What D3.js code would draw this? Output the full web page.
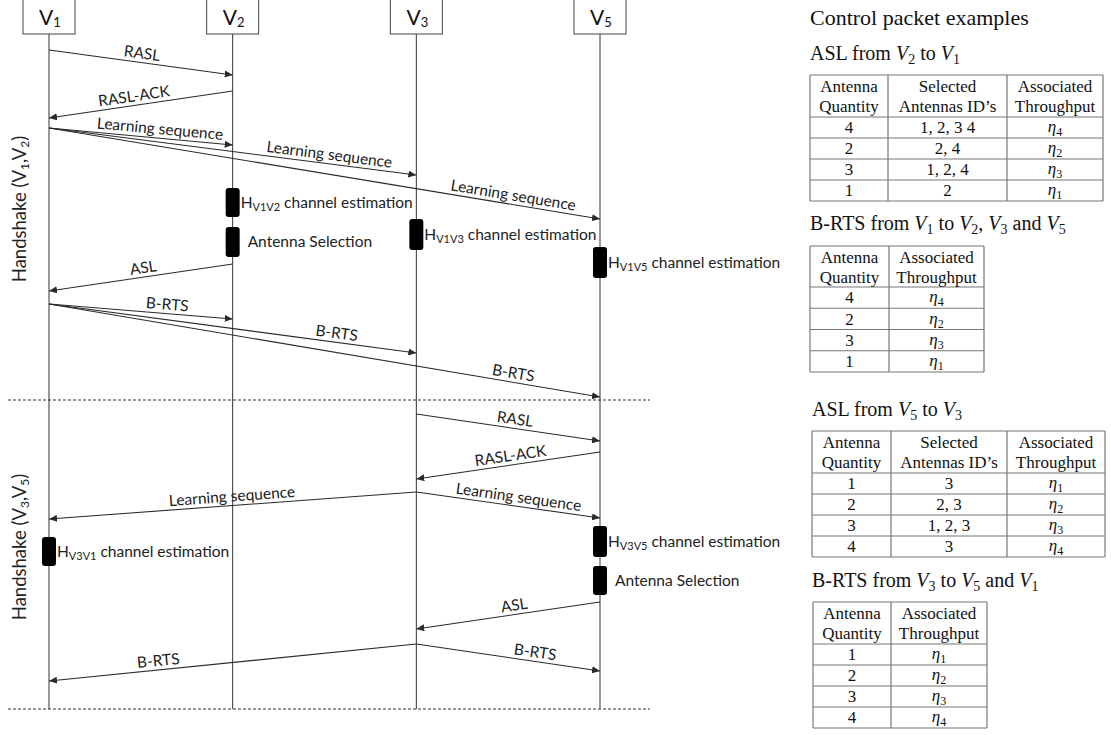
<!DOCTYPE html>
<html><head><meta charset="utf-8">
<script src="https://cdn.jsdelivr.net/npm/d3@7"></script>
<style>body{margin:0;background:#fff}</style>
</head><body>
<svg id="c" width="1111" height="736"></svg>
<script>
// ---------- data ----------
const nodes = ["V1", "V2", "V3", "V5"];
const nodeSubs = ["1", "2", "3", "5"];

// messages (sequence diagram): sender, receiver, send time, receive time, label, label position
const msgFrom  = ["V1","V2","V1","V1","V1","V2","V1","V1","V1","V3","V5","V3","V3","V5","V3","V3"];
const msgTo    = ["V2","V1","V2","V3","V5","V1","V2","V3","V5","V5","V3","V1","V5","V3","V5","V1"];
const msgStart = [50, 91, 128, 128, 128, 264, 304, 304, 304, 414, 452, 492, 492, 602, 644, 644];
const msgEnd   = [75, 118, 145, 175, 219, 291, 319, 353, 397, 441, 479, 519, 518, 629, 671, 681];
const msgLabel = ["RASL","RASL-ACK","Learning sequence","Learning sequence","Learning sequence","ASL",
                  "B-RTS","B-RTS","B-RTS","RASL","RASL-ACK","Learning sequence","Learning sequence",
                  "ASL","B-RTS","B-RTS"];
const msgLabelAt = [0.5, 0.53, 0.6, 0.76, 0.84, 0.48, 0.64, 0.78, 0.84, 0.53, 0.48, 0.5, 0.55, 0.46, 0.64, 0.70];

// processing blocks on lifelines
const actNode  = ["V2","V2","V3","V5","V1","V5","V5"];
const actStart = [188, 227, 219, 247, 537, 526, 566];
const actEnd   = [217, 257, 250, 278, 566, 557, 595];
const actMain  = ["H","Antenna Selection","H","H","H","H","Antenna Selection"];
const actSub   = ["V1V2","","V1V3","V1V5","V3V1","V3V5",""];
const actRest  = [" channel estimation",""," channel estimation"," channel estimation"," channel estimation"," channel estimation",""];

// phases
const phaseNames = [["V","1","V","2"], ["V","3","V","5"]];
const phaseEnd = [400, 709];
const phaseCenter = [209, 547];

// control packet tables
const tableTitles = [
  [["ASL from ","n"],["V","i"],["2","s"],[" to ","n"],["V","i"],["1","s"]],
  [["B-RTS from ","n"],["V","i"],["1","s"],[" to ","n"],["V","i"],["2","s"],[", ","n"],["V","i"],["3","s"],[" and ","n"],["V","i"],["5","s"]],
  [["ASL from ","n"],["V","i"],["5","s"],[" to ","n"],["V","i"],["3","s"]],
  [["B-RTS from ","n"],["V","i"],["3","s"],[" to ","n"],["V","i"],["5","s"],[" and ","n"],["V","i"],["1","s"]]
];
const headers3 = [["Antenna","Quantity"],["Selected","Antennas ID\u2019s"],["Associated","Throughput"]];
const headers2 = [["Antenna","Quantity"],["Associated","Throughput"]];
const aslV2V1Qty = ["4","2","3","1"];
const aslV2V1Ids = ["1, 2, 3 4","2, 4","1, 2, 4","2"];
const aslV2V1Eta = ["4","2","3","1"];
const brtsV1Qty = ["4","2","3","1"];
const brtsV1Eta = ["4","2","3","1"];
const aslV5V3Qty = ["1","2","3","4"];
const aslV5V3Ids = ["3","2, 3","1, 2, 3","3"];
const aslV5V3Eta = ["1","2","3","4"];
const brtsV3Qty = ["1","2","3","4"];
const brtsV3Eta = ["1","2","3","4"];

// ---------- drawing ----------
const svg = d3.select("#c");
const sans = "Lato, 'Open Sans', sans-serif";
const serif = "'Liberation Serif', 'Times New Roman', serif";
const ink = "#2a2a2a";

const x = d3.scalePoint().domain(nodes).range([49, 600]);
const y = d3.scaleLinear().domain([0, 736]).range([0, 736]);

svg.append("defs").append("marker")
  .attr("id", "ah").attr("markerUnits", "userSpaceOnUse")
  .attr("markerWidth", 9).attr("markerHeight", 7)
  .attr("refX", 8).attr("refY", 3.5).attr("orient", "auto")
  .append("path").attr("d", "M0,0 L8,3.5 L0,7 Z").attr("fill", ink);

function rich(sel, parts, size, subSize, subDy) {
  let shift = 0;
  parts.forEach(([t, st]) => {
    const ts = sel.append("tspan").text(t);
    const isSub = st.indexOf("s") >= 0;
    const want = isSub ? subDy : 0;
    if (want !== shift) { ts.attr("dy", want - shift); shift = want; }
    ts.attr("font-size", isSub ? subSize : size);
    if (st.indexOf("i") >= 0) ts.attr("font-style", "italic");
  });
}

// dashed separators
svg.selectAll("line.sep").data(phaseEnd).join("line")
  .attr("x1", 8).attr("x2", 650).attr("y1", d => y(d)).attr("y2", d => y(d))
  .attr("stroke", "#333").attr("stroke-width", 1).attr("stroke-dasharray", "3,2");

// lifelines
svg.selectAll("line.life").data(nodes).join("line")
  .attr("x1", d => x(d)).attr("x2", d => x(d))
  .attr("y1", y(34)).attr("y2", y(phaseEnd[1]))
  .attr("stroke", "#333").attr("stroke-width", 1);

// node boxes
const ng = svg.selectAll("g.node").data(nodes).join("g");
ng.append("rect").attr("x", d => x(d) - 26).attr("y", -2).attr("width", 52).attr("height", 36)
  .attr("fill", "#fff").attr("stroke", "#444").attr("stroke-width", 1);
ng.append("text").attr("x", d => x(d) + 1).attr("y", 25).attr("text-anchor", "middle")
  .attr("font-family", sans).attr("fill", "#111")
  .each(function(d, i) { rich(d3.select(this), [["V","n"],[nodeSubs[i],"s"]], 21, 13, 2); });

// vertical phase labels
phaseNames.forEach((p, i) => {
  const t = svg.append("text")
    .attr("transform", `translate(26,${y(phaseCenter[i])}) rotate(-90)`)
    .attr("text-anchor", "middle").attr("font-family", sans).attr("fill", "#222");
  rich(t, [["Handshake (","n"],[p[0],"n"],[p[1],"s"],[",","n"],[p[2],"n"],[p[3],"s"],[")","n"]], 18.5, 12, 3);
});

// messages
const msgs = msgFrom.map((f, i) => ({
  x1: x(f), y1: y(msgStart[i]), x2: x(msgTo[i]), y2: y(msgEnd[i]), label: msgLabel[i], at: msgLabelAt[i]
}));
svg.selectAll("line.msg").data(msgs).join("line")
  .attr("x1", d => d.x1).attr("y1", d => d.y1).attr("x2", d => d.x2).attr("y2", d => d.y2)
  .attr("stroke", ink).attr("stroke-width", 1.1).attr("marker-end", "url(#ah)");
svg.selectAll("text.msg").data(msgs).join("text")
  .attr("transform", d => {
    const lx = d.x1 + (d.x2 - d.x1) * d.at, ly = d.y1 + (d.y2 - d.y1) * d.at;
    const L = d.x1 < d.x2 ? d : {x1: d.x2, y1: d.y2, x2: d.x1, y2: d.y1};
    const ang = Math.atan2(L.y2 - L.y1, L.x2 - L.x1) * 180 / Math.PI;
    return `translate(${lx},${ly}) rotate(${ang})`;
  })
  .attr("y", -4).attr("text-anchor", "middle")
  .attr("font-family", sans).attr("font-size", 15.5).attr("fill", "#222")
  .text(d => d.label);

// activation blocks
actNode.forEach((n, i) => {
  svg.append("rect").attr("x", x(n) - 7).attr("y", y(actStart[i])).attr("width", 14)
    .attr("height", y(actEnd[i]) - y(actStart[i])).attr("rx", 3).attr("fill", "#000");
  const cy = (y(actStart[i]) + y(actEnd[i])) / 2;
  const t = svg.append("text").attr("x", x(n) + (actSub[i] ? 8 : 15)).attr("y", cy + 5)
    .attr("font-family", sans).attr("fill", "#222");
  const parts = [[actMain[i], "n"]];
  if (actSub[i]) parts.push([actSub[i], "s"]);
  if (actRest[i]) parts.push([actRest[i], "n"]);
  rich(t, parts, 15.5, 11, 3);
});

// control packet section
svg.append("text").attr("x", 810).attr("y", 25).attr("font-family", serif)
  .attr("font-size", 22).attr("fill", "#111").text("Control packet examples");

const tableTitlePos = [[810, 60], [810, 230], [812, 416], [812, 587]];
tableTitles.forEach((parts, i) => {
  const t = svg.append("text").attr("x", tableTitlePos[i][0]).attr("y", tableTitlePos[i][1])
    .attr("font-family", serif).attr("fill", "#111");
  rich(t, parts, 20, 14, 4);
});

function drawTable(edges, top, headBottom, rowH, headers, columns, etaCol) {
  const g = svg.append("g");
  const nRows = columns[0].length;
  const rowY = d3.range(nRows + 1).map(k => headBottom + k * rowH);
  const bottom = rowY[nRows];
  [top].concat(rowY).forEach(yy => g.append("line").attr("x1", edges[0]).attr("x2", edges[edges.length - 1])
    .attr("y1", yy).attr("y2", yy).attr("stroke", "#777").attr("stroke-width", 1.2));
  edges.forEach(xx => g.append("line").attr("x1", xx).attr("x2", xx).attr("y1", top).attr("y2", bottom)
    .attr("stroke", "#777").attr("stroke-width", 1.2));
  headers.forEach((h, c) => {
    const cx = (edges[c] + edges[c + 1]) / 2;
    h.forEach((line, k) => g.append("text").attr("x", cx).attr("y", top + 17 + k * 19.5)
      .attr("text-anchor", "middle").attr("font-family", serif).attr("font-size", 17)
      .attr("fill", "#111").text(line));
  });
  columns.forEach((col, c) => {
    const cx = (edges[c] + edges[c + 1]) / 2;
    col.forEach((v, r) => {
      const t = g.append("text").attr("x", cx).attr("y", rowY[r + 1] - 5)
        .attr("text-anchor", "middle").attr("font-family", serif).attr("fill", "#111");
      if (c === etaCol) {
        t.attr("y", rowY[r + 1] - 6);
        rich(t, [["\u03B7", "i"], [v, "s"]], 17, 12, 4);
      } else {
        t.attr("font-size", 17).text(v);
      }
    });
  });
}

drawTable([810, 888, 1007, 1103], 75, 117, 21, headers3, [aslV2V1Qty, aslV2V1Ids, aslV2V1Eta], 2);
drawTable([810, 889, 984], 246, 287, 21.25, headers2, [brtsV1Qty, brtsV1Eta], 1);
drawTable([812, 891, 1007, 1105], 431, 473, 21, headers3, [aslV5V3Qty, aslV5V3Ids, aslV5V3Eta], 2);
drawTable([813, 891, 987], 602, 644, 21, headers2, [brtsV3Qty, brtsV3Eta], 1);
</script>
</body></html>
